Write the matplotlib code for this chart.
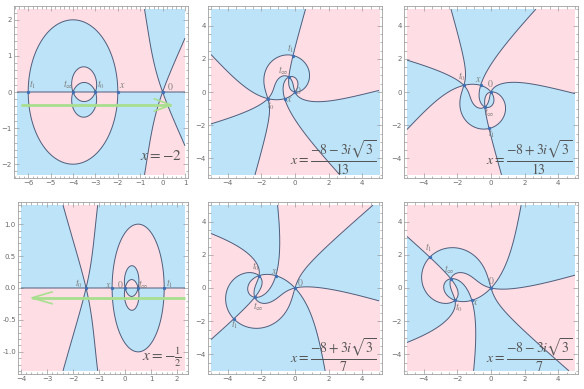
import numpy as np
import matplotlib
matplotlib.use('Agg')
import matplotlib.pyplot as plt
from matplotlib.colors import ListedColormap
from matplotlib.ticker import MultipleLocator, FormatStrFormatter

plt.rcParams['mathtext.fontset'] = 'stix'
plt.rcParams['font.family'] = ['DejaVu Sans']

# ---- data -------------------------------------------------------------
s3 = np.sqrt(3)
x_values = [-2, (-8 - 3j * s3) / 13, (-8 + 3j * s3) / 13,
            -0.5, (-8 + 3j * s3) / 7, (-8 - 3j * s3) / 7]
x_texts = [r'$x=-2$',
           r'$x=\dfrac{-8-3i\sqrt{3}}{13}$',
           r'$x=\dfrac{-8+3i\sqrt{3}}{13}$',
           r'$x=-\frac{1}{2}$',
           r'$x=\dfrac{-8+3i\sqrt{3}}{7}$',
           r'$x=\dfrac{-8-3i\sqrt{3}}{7}$']
x_ranges = [(-6.5, 1.0), (-5, 5), (-5, 5), (-4.0, 2.3), (-5, 5), (-5, 5)]
y_ranges = [(-2.3, 2.3), (-5, 5), (-5, 5), (-1.3, 1.3), (-5, 5), (-5, 5)]
major_step = [(1, 1), (2, 2), (2, 2), (1, 0.5), (2, 2), (2, 2)]
minor_step = [(0.2, 0.2), (0.5, 0.5), (0.5, 0.5), (0.2, 0.1), (0.5, 0.5), (0.5, 0.5)]

# green arrows: (start x, tip x, y) in panels 1 and 4
arrows = {0: (-6.33, 0.38, -0.36), 3: (2.3, -3.58, -0.154)}
# chevron arm size (dx, dy) in data units
arrow_heads = {0: (0.75, 0.17), 3: (0.77, 0.092)}

point_tex = {'t0': r'$t_0$', 't1': r'$t_1$', 'tinf': r'$t_\infty$',
             'x': r'$x$', 'o': r'$0$'}
# label offsets (points) for each panel
label_off = [
    {'t1': (3, 5.4), 'tinf': (-3.7, 5.4), 't0': (4.3, 5.4), 'x': (3.4, 5.4), 'o': (5.5, 3.8)},
    {'t1': (-1.9, 4.7), 'tinf': (-3.7, 4.9), 't0': (2.3, -4.9), 'x': (3.4, -0.6), 'o': (2.5, 1.3)},
    {'t1': (2.2, -3.5), 'tinf': (3.5, -4.2), 't0': (-1.2, 6.1), 'x': (-2, 4.7), 'o': (-0.4, 6.1)},
    {'t1': (4.1, 3), 'tinf': (3.8, 2.3), 't0': (-5, 3), 'x': (-2.7, 2.3), 'o': (-3.2, 2.3)},
    {'t1': (0.6, -4.4), 'tinf': (2.4, -7.1), 't0': (-2.3, 6.2), 'x': (-1, 3.1), 'o': (4, 3.7)},
    {'t1': (-1, 6.5), 'tinf': (-1, 6.7), 't0': (2.5, -5), 'x': (2.5, -1), 'o': (0, 5.4)},
]
text_y = [0.13, 0.115, 0.115, 0.095, 0.11, 0.11]
text_size = [11, 10, 10, 11, 10, 10]

PINK = '#ffdde4'
BLUE = '#bde3f8'
CURVE = '#4f5d7b'
GREEN = '#a8df8e'


def special_points(x):
    t0 = x - 1
    tinf = x ** 2 / (x + 1)
    t1 = 2 * tinf - x
    return {'t0': t0, 't1': t1, 'tinf': tinf, 'x': x, 'o': 0}


def field(x, X, Y):
    t = X + 1j * Y
    p = special_points(x)
    R = t * (t - p['t0']) / (t - p['tinf']) / (x + 1)
    return np.sin(3 * np.angle(R))


fig = plt.figure(figsize=(5.84, 3.89), dpi=100)
W, H = 584.0, 389.0
# frame boxes in pixels: left, top, width, height
frames = [(14, 6, 174, 172), (208, 6, 174, 172), (404, 6, 174, 172),
          (18, 202, 170, 172), (208, 202, 174, 172), (404, 202, 174, 172)]

for k in range(6):
    fl, ft, fw, fh = frames[k]
    ax = fig.add_axes([fl / W, 1 - (ft + fh) / H, fw / W, fh / H])
    xr, yr = x_ranges[k], y_ranges[k]
    px = (xr[1] - xr[0]) * 3.0 / (fw - 6)
    py = (yr[1] - yr[0]) * 3.0 / (fh - 6)

    n = 700
    xs = np.linspace(xr[0], xr[1], n)
    ys = np.linspace(yr[0], yr[1], n + 1)
    ys = 0.5 * (ys[1:] + ys[:-1])
    X, Y = np.meshgrid(xs, ys)
    S = field(x_values[k], X, Y)

    ax.imshow((S > 0).astype(float), extent=[xr[0], xr[1], yr[0], yr[1]],
              origin='lower', cmap=ListedColormap([PINK, BLUE]),
              interpolation='nearest', aspect='auto', vmin=0, vmax=1)
    ax.contour(X, Y, S, levels=[0], colors=CURVE, linewidths=0.7)

    if k in arrows:
        x0, x1, yy = arrows[k]
        hx, hy = arrow_heads[k]
        d = np.sign(x1 - x0)
        ax.plot([x0, x1], [yy, yy], color=GREEN, lw=2.0, solid_capstyle='butt')
        ax.plot([x1 - d * hx, x1, x1 - d * hx], [yy + hy, yy, yy - hy],
                color=GREEN, lw=1.2)

    pts = special_points(x_values[k])
    for name, z in pts.items():
        z = complex(z)
        ax.plot(z.real, z.imag, 'o', ms=2.4, color='#3f6fb4', mec='none')
        dx, dy = label_off[k][name]
        ax.annotate(point_tex[name], (z.real, z.imag), xytext=(dx, dy),
                    textcoords='offset points', ha='center', va='center',
                    fontsize=7, color='#7d7d7d')

    ax.text(0.965, text_y[k], x_texts[k], transform=ax.transAxes,
            ha='right', va='center', fontsize=text_size[k], color='#555555')

    ax.set_xlim(xr[0] - px, xr[1] + px)
    ax.set_ylim(yr[0] - py, yr[1] + py)
    ax.xaxis.set_major_locator(MultipleLocator(major_step[k][0]))
    ax.yaxis.set_major_locator(MultipleLocator(major_step[k][1]))
    ax.xaxis.set_minor_locator(MultipleLocator(minor_step[k][0]))
    ax.yaxis.set_minor_locator(MultipleLocator(minor_step[k][1]))
    if k == 3:
        ax.yaxis.set_major_formatter(FormatStrFormatter('%.1f'))
    ax.tick_params(which='both', direction='in', top=True, right=True,
                   color='#9a9a9a', width=0.5, labelsize=5,
                   labelcolor='#6a6a6a', pad=1.5)
    ax.tick_params(which='major', length=3.5)
    ax.tick_params(which='minor', length=1.8)
    for sp in ax.spines.values():
        sp.set_color('#a0a0a0')
        sp.set_linewidth(0.6)

fig.savefig('out.png', dpi=100)
